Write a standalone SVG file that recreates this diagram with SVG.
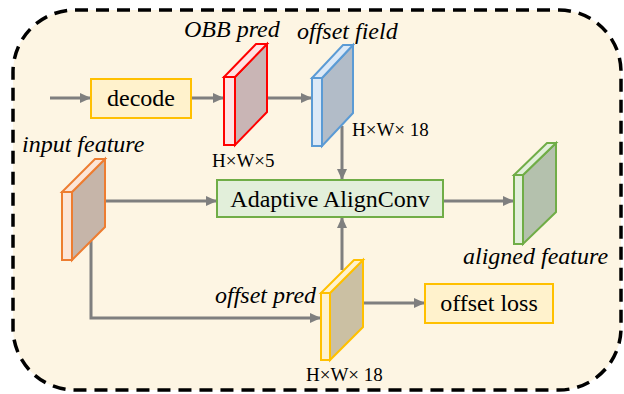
<svg xmlns="http://www.w3.org/2000/svg" width="624" height="394" viewBox="0 0 624 394">
<style>
.lbl{font-family:"Liberation Serif","Times New Roman",serif;font-size:24px;fill:#000}
.it{font-style:italic}
.dim{font-family:"Liberation Serif","Times New Roman",serif;font-size:19px;fill:#000}
.ybox{fill:#fff2cc;stroke:#ffc000;stroke-width:2}
.gbox{fill:#e2efda;stroke:#70ad47;stroke-width:2}
.conn{stroke:#7f7f7f;stroke-width:3;fill:none}
.cb{stroke-width:2;stroke-linejoin:miter}
</style>
<defs>
<marker id="ah" markerUnits="userSpaceOnUse" markerWidth="12" markerHeight="12" refX="11" refY="6" orient="auto">
<path d="M0,1 L11,6 L0,11 z" fill="#7f7f7f"/>
</marker>
</defs>
<rect id="frame" x="13" y="10" width="608" height="380" rx="62" ry="62" fill="#fdf5e3" stroke="#000" stroke-width="3.5" stroke-dasharray="13 8"/>
<g id="connectors">
<line class="conn" x1="50" y1="98" x2="91" y2="98" marker-end="url(#ah)"/>
<line class="conn" x1="191" y1="98" x2="224" y2="98" marker-end="url(#ah)"/>
<line class="conn" x1="267" y1="98" x2="312" y2="98" marker-end="url(#ah)"/>
<line class="conn" x1="342" y1="126" x2="342" y2="180" marker-end="url(#ah)"/>
<line class="conn" x1="105" y1="201" x2="217" y2="201" marker-end="url(#ah)"/>
<polyline class="conn" points="91,241 91,318 321,318" marker-end="url(#ah)"/>
<line class="conn" x1="342" y1="270" x2="342" y2="217" marker-end="url(#ah)"/>
<line class="conn" x1="363" y1="303" x2="425" y2="303" marker-end="url(#ah)"/>
<line class="conn" x1="443" y1="201" x2="514" y2="201" marker-end="url(#ah)"/>
</g>
<g id="decode">
<rect class="ybox" x="91" y="79" width="100" height="39"/>
<text class="lbl" x="141" y="106" text-anchor="middle">decode</text>
</g>
<g id="obb-pred" class="cb" stroke="#ff0000">
<polygon points="235,77 267,44 267,112 235,145" fill="#c9b5b5"/>
<polygon points="224,77 235,77 267,44 256,44" fill="#ffe3e3"/>
<rect x="224" y="77" width="11" height="68" fill="#ffe3e3"/>
<text class="lbl it" x="184" y="37" stroke="none">OBB pred</text>
<text class="dim" x="212" y="167" stroke="none">H×W×5</text>
</g>
<g id="offset-field" class="cb" stroke="#5b9bd5">
<polygon points="322,78 353,45 353,113 322,146" fill="#b2bcc8"/>
<polygon points="312,78 322,78 353,45 343,45" fill="#dce9f7"/>
<rect x="312" y="78" width="10" height="68" fill="#dce9f7"/>
<text class="lbl it" x="297" y="39" stroke="none">offset field</text>
<text class="dim" x="352" y="136" stroke="none">H×W× 18</text>
</g>
<g id="adaptive-alignconv">
<rect class="gbox" x="217" y="180" width="226" height="37"/>
<text class="lbl" x="330" y="207" text-anchor="middle">Adaptive AlignConv</text>
</g>
<g id="input-feature" class="cb" stroke="#ed7d31">
<polygon points="72,192 105,159 105,227 72,260" fill="#c6b5a9"/>
<polygon points="62,192 72,192 105,159 95,159" fill="#fce5d7"/>
<rect x="62" y="192" width="10" height="68" fill="#fce5d7"/>
<text class="lbl it" x="22" y="152" stroke="none">input feature</text>
</g>
<g id="offset-pred" class="cb" stroke="#ffc000">
<polygon points="330,293 363,260 363,327 330,360" fill="#cbc0a3"/>
<polygon points="321,293 330,293 363,260 354,260" fill="#fff2cc"/>
<rect x="321" y="293" width="9" height="67" fill="#fff2cc"/>
<text class="lbl it" x="215" y="303" stroke="none">offset pred</text>
<text class="dim" x="306" y="381" stroke="none">H×W× 18</text>
</g>
<g id="offset-loss">
<rect class="ybox" x="425" y="284" width="128" height="39"/>
<text class="lbl" x="489" y="311" text-anchor="middle">offset loss</text>
</g>
<g id="aligned-feature" class="cb" stroke="#70ad47">
<polygon points="523,175 556,143 556,212 523,244" fill="#b4c1ad"/>
<polygon points="514,175 523,175 556,143 547,143" fill="#e2efda"/>
<rect x="514" y="175" width="9" height="69" fill="#e2efda"/>
<text class="lbl it" x="463" y="264" stroke="none">aligned feature</text>
</g>
</svg>
